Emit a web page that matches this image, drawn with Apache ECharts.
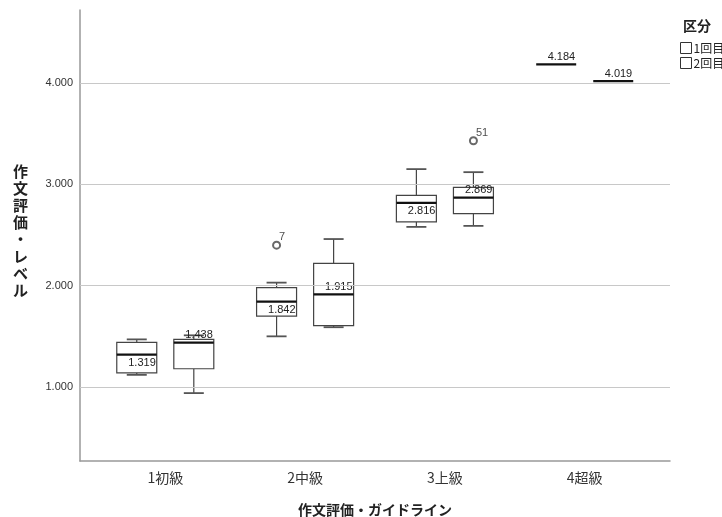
<!DOCTYPE html>
<html lang="ja">
	<head>
		<meta charset="utf-8" />
		<title>作文評価 boxplot</title>
		<style>
			html, body { margin: 0; padding: 0; background: #fff; }
			#chart { width: 722px; height: 517px; }
		</style>
	</head>
	<body>
		<div id="chart"></div>
		<script src="https://cdn.jsdelivr.net/npm/echarts@6/dist/echarts.min.js"></script>
		<script type="text/javascript">
			const categories = ['1初級', '2中級', '3上級', '4超級'];
			const seriesNames = ['1回目', '2回目'];
			// [min, q1, median, q3, max]
			const round1 = [
				[1.12, 1.14, 1.319, 1.44, 1.47],
				[1.50, 1.70, 1.842, 1.98, 2.03],
				[2.58, 2.63, 2.816, 2.89, 3.15],
				[4.184, 4.184, 4.184, 4.184, 4.184],
			];
			const round2 = [
				[0.94, 1.18, 1.438, 1.47, 1.51],
				[1.59, 1.605, 1.915, 2.22, 2.46],
				[2.59, 2.71, 2.869, 2.97, 3.12],
				[4.019, 4.019, 4.019, 4.019, 4.019],
			];
			// [category index, value, case label]
			const outliers1 = [[1, 2.40, '7']];
			const outliers2 = [[2, 3.43, '51']];
			const yTicks = [1, 2, 3, 4];

			const FONT = '"Liberation Sans", Arial, "Noto Sans CJK JP", sans-serif';
			const JP = '"Noto Sans CJK JP", sans-serif';
			const OFFSET = 0.204;
			const BOXW = 0.286;

			// group: 0 = 1回目 (left), 1 = 2回目 (right)
			function makeRenderBox(group) {
				return function (params, api) {
					const off = group === 0 ? -OFFSET : OFFSET;
					const x = api.value(0) + off;
					const cx = api.coord([x, 1])[0];
					const yMin = api.coord([x, api.value(1)])[1];
					const yQ1 = api.coord([x, api.value(2)])[1];
					const yMed = api.coord([x, api.value(3)])[1];
					const yQ3 = api.coord([x, api.value(4)])[1];
					const yMax = api.coord([x, api.value(5)])[1];
					const half = api.size([BOXW, 0])[0] / 2;
					const cap = half / 2;
					const stroke = { stroke: '#444', lineWidth: 1.2 };
					const children = [];
					const hasBox = yQ1 - yQ3 > 0.5;
					if (hasBox) {
						children.push(
							{ type: 'line', shape: { x1: cx, y1: yMax, x2: cx, y2: yQ3 }, style: stroke },
							{ type: 'line', shape: { x1: cx, y1: yQ1, x2: cx, y2: yMin }, style: stroke },
							{ type: 'line', shape: { x1: cx - cap, y1: yMax, x2: cx + cap, y2: yMax }, style: { stroke: '#555', lineWidth: 1.8 } },
							{ type: 'line', shape: { x1: cx - cap, y1: yMin, x2: cx + cap, y2: yMin }, style: { stroke: '#555', lineWidth: 1.8 } },
							{ type: 'rect', shape: { x: cx - half, y: yQ3, width: half * 2, height: yQ1 - yQ3 }, style: { fill: '#fff', stroke: '#444', lineWidth: 1.2 } }
						);
					}
					children.push({
						type: 'line',
						shape: { x1: cx - half, y1: yMed, x2: cx + half, y2: yMed },
						style: { stroke: '#111', lineWidth: 2.2 },
					});
					const below = group === 0 && hasBox;
					children.push({
						type: 'text',
						style: {
							x: cx + half - 1,
							y: below ? yMed + 3 : yMed - 2,
							text: api.value(3).toFixed(3),
							align: 'right',
							verticalAlign: below ? 'top' : 'bottom',
							font: '11px ' + FONT,
							fill: '#222',
						},
					});
					return { type: 'group', children: children };
				};
			}

			function boxData(rows) {
				return rows.map((r, i) => [i].concat(r));
			}

			function outlierSeries(rows, idx) {
				const off = idx === 0 ? -OFFSET : OFFSET;
				return {
					name: 'outlier' + idx,
					type: 'scatter',
					symbol: 'emptyCircle',
					symbolSize: 7,
					itemStyle: { color: '#444', borderWidth: 1 },
					z: 3,
					data: rows.map(r => ({ value: [r[0] + off, r[1]], name: r[2] })),
					label: {
						show: true,
						formatter: p => p.name,
						position: [7, -9],
						fontSize: 11,
						fontFamily: FONT,
						color: '#222',
					},
				};
			}

			const chart = echarts.init(document.getElementById('chart'), null, { renderer: 'canvas' });
			chart.setOption({
				animation: false,
				backgroundColor: '#fff',
				grid: { left: 80, right: 52, top: 10, bottom: 56, outerBoundsMode: 'none', containLabel: false },
				legend: {
					orient: 'vertical',
					left: 675,
					top: 37,
					itemWidth: 11,
					itemHeight: 11,
					itemGap: 3,
					icon: 'rect',
					textStyle: { fontSize: 12, fontFamily: JP, color: '#222', padding: [0, 0, 0, -3] },
					data: seriesNames.map(n => ({
						name: n,
						itemStyle: { color: '#fff', borderColor: '#333', borderWidth: 1 },
					})),
				},
				xAxis: {
					type: 'value',
					min: -0.61,
					max: 3.61,
					axisLine: { show: true, onZero: false, lineStyle: { color: '#999', width: 1.5 } },
					axisTick: { show: false },
					splitLine: { show: false },
					axisLabel: {
						customValues: [0, 1, 2, 3],
						formatter: v => categories[Math.round(v)],
						fontSize: 14,
						fontFamily: JP,
						color: '#333',
						margin: 10,
					},
					name: '作文評価・ガイドライン',
					nameLocation: 'middle',
					nameGap: 42,
					nameTextStyle: { fontSize: 14, fontWeight: 'bold', fontFamily: JP, color: '#222' },
				},
				yAxis: {
					type: 'value',
					min: 0.27,
					max: 4.72,
					axisLine: { show: true, onZero: false, lineStyle: { color: '#999', width: 1.5 } },
					axisTick: { show: false },
					splitLine: { show: false },
					axisLabel: {
						customValues: yTicks,
						formatter: v => v.toFixed(3),
						fontSize: 11,
						fontFamily: FONT,
						color: '#333',
						margin: 7,
					},
				},
				graphic: [
					{
						type: 'text',
						left: 13,
						top: 163,
						style: {
							text: '作文評価・レベル'.split('').join('\n'),
							font: 'bold 15px ' + JP,
							lineHeight: 17,
							fill: '#222',
							align: 'center',
						},
					},
					{
						type: 'text',
						left: 683,
						top: 19,
						style: { text: '区分', font: 'bold 14px ' + JP, fill: '#222' },
					},
				],
				series: [
					{
						name: 'grid',
						type: 'line',
						data: [],
						z: 1,
						markLine: {
							silent: true,
							symbol: 'none',
							label: { show: false },
							lineStyle: { color: '#c8c8c8', type: 'solid', width: 1 },
							data: yTicks.map(v => ({ yAxis: v })),
						},
					},
					{
						name: seriesNames[0],
						type: 'custom',
						renderItem: makeRenderBox(0),
						encode: { x: 0, y: [1, 2, 3, 4, 5] },
						z: 2,
						data: boxData(round1),
					},
					{
						name: seriesNames[1],
						type: 'custom',
						renderItem: makeRenderBox(1),
						encode: { x: 0, y: [1, 2, 3, 4, 5] },
						z: 2,
						data: boxData(round2),
					},
					outlierSeries(outliers1, 0),
					outlierSeries(outliers2, 1),
				],
			});
		</script>
	</body>
</html>
